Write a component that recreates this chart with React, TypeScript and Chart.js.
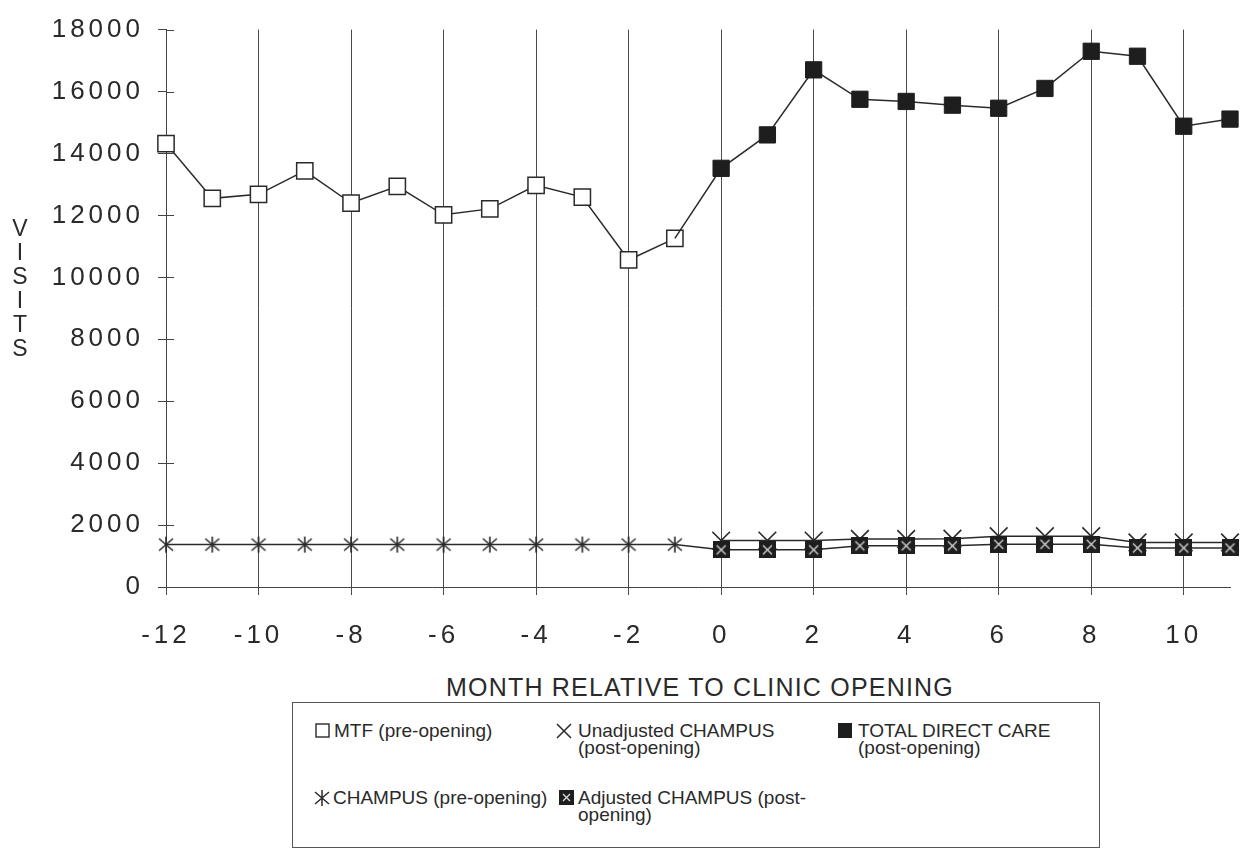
import React, { useEffect, useRef } from 'react';
import { Chart, registerables } from 'chart.js';

Chart.register(...registerables);

// ---- data ----
const preMonths = [-12, -11, -10, -9, -8, -7, -6, -5, -4, -3, -2, -1];
const postMonths = [0, 1, 2, 3, 4, 5, 6, 7, 8, 9, 10, 11];
const mtfPre = [14320, 12550, 12680, 13440, 12400, 12940, 12020, 12210, 12970, 12590, 10560, 11260];
const champusPre = [1370, 1370, 1370, 1370, 1370, 1370, 1370, 1370, 1370, 1370, 1370, 1370];
const unadjustedPost = [1500, 1500, 1500, 1550, 1550, 1560, 1640, 1640, 1640, 1440, 1440, 1440];
const adjustedPost = [1200, 1200, 1200, 1330, 1330, 1330, 1380, 1380, 1380, 1260, 1260, 1260];
const totalDirectPost = [13520, 14600, 16700, 15750, 15680, 15560, 15460, 16100, 17300, 17140, 14880, 15110];
const yMin = 0;
const yMax = 18000;
const yStep = 2000;
const xMin = -12;
const xMax = 11;
const xStep = 2;

const xTitle = 'MONTH RELATIVE TO CLINIC OPENING';
const yTitleLetters = ['V', 'I', 'S', 'I', 'T', 'S'];

const INK = '#2a2a2a';
const FONT = "'Liberation Sans', Arial, Helvetica, sans-serif";

function makeAsterisk(): HTMLCanvasElement {
  const c = document.createElement('canvas');
  c.width = 18; c.height = 18;
  const g = c.getContext('2d')!;
  g.strokeStyle = INK; g.lineWidth = 1.6;
  g.beginPath();
  g.moveTo(2, 3); g.lineTo(16, 15);
  g.moveTo(2, 15); g.lineTo(16, 3);
  g.moveTo(9, 1); g.lineTo(9, 17);
  g.stroke();
  return c;
}

function makeAdjusted(): HTMLCanvasElement {
  const c = document.createElement('canvas');
  c.width = 17; c.height = 17;
  const g = c.getContext('2d')!;
  g.fillStyle = '#1e1e1e';
  g.fillRect(0, 0, 17, 17);
  g.strokeStyle = '#d8d8d8'; g.lineWidth = 1.3;
  g.beginPath();
  g.moveTo(4, 4); g.lineTo(13, 13);
  g.moveTo(4, 13); g.lineTo(13, 4);
  g.stroke();
  return c;
}

const spacingPlugin = {
  id: 'letterSpacing',
  beforeDraw(chart: any) {
    chart.ctx.letterSpacing = '4px';
  },
  afterDraw(chart: any) {
    chart.ctx.letterSpacing = '0px';
    // inward half of the crossing tick marks on the y axis
    const y = chart.scales.y;
    const left = chart.chartArea.left;
    const ctx = chart.ctx;
    ctx.save();
    ctx.strokeStyle = '#444';
    ctx.lineWidth = 1;
    ctx.beginPath();
    y.ticks.forEach((t: any) => {
      const py = Math.round(y.getPixelForValue(t.value)) + 0.5;
      ctx.moveTo(left, py);
      ctx.lineTo(left + 8, py);
    });
    ctx.stroke();
    ctx.restore();
  },
};

function ChartCanvas() {
  const ref = useRef<HTMLCanvasElement | null>(null);
  useEffect(() => {
    if (!ref.current) return;
    const asterisk = makeAsterisk();
    const adjusted = makeAdjusted();
    const pts = (xs: number[], ys: number[]) => xs.map((x, i) => ({ x, y: ys[i] }));

    const chart = new Chart(ref.current, {
      type: 'line',
      data: {
        datasets: [
          {
            label: 'MTF (pre-opening)',
            data: pts(preMonths, mtfPre),
            borderColor: INK,
            borderWidth: 1.5,
            pointStyle: 'rect',
            pointRadius: 11.5,
            pointBackgroundColor: '#ffffff',
            pointBorderColor: INK,
            pointBorderWidth: 1.5,
            clip: false,
            order: 2,
          },
          {
            label: 'TOTAL DIRECT CARE (post-opening)',
            data: [{ x: preMonths[preMonths.length - 1], y: mtfPre[mtfPre.length - 1] }, ...pts(postMonths, totalDirectPost)],
            borderColor: INK,
            borderWidth: 1.5,
            pointStyle: 'rect',
            pointRadius: (c: any) => (c.dataIndex === 0 ? 0 : 11.5),
            pointBackgroundColor: '#1e1e1e',
            pointBorderColor: '#1e1e1e',
            pointBorderWidth: 1,
            clip: false,
            order: 1,
          },
          {
            label: 'CHAMPUS (pre-opening)',
            data: pts(preMonths, champusPre),
            borderColor: INK,
            borderWidth: 1.5,
            pointStyle: asterisk,
            pointRadius: 8,
            clip: false,
            order: 5,
          },
          {
            label: 'Unadjusted CHAMPUS (post-opening)',
            data: pts(postMonths, unadjustedPost),
            borderColor: INK,
            borderWidth: 1.5,
            pointStyle: 'crossRot',
            pointRadius: 12.5,
            pointBorderColor: INK,
            pointBorderWidth: 1.6,
            clip: false,
            order: 4,
          },
          {
            label: 'Adjusted CHAMPUS (post-opening)',
            data: [{ x: preMonths[preMonths.length - 1], y: champusPre[champusPre.length - 1] }, ...pts(postMonths, adjustedPost)],
            borderColor: INK,
            borderWidth: 1.5,
            pointStyle: adjusted,
            pointRadius: (c: any) => (c.dataIndex === 0 ? 0 : 8),
            clip: false,
            order: 3,
          },
        ],
      },
      options: {
        responsive: false,
        animation: false,
        events: [],
        layout: { padding: { left: 0, top: 20, right: 19, bottom: 0 } },
        plugins: {
          legend: { display: false },
          tooltip: { enabled: false },
        },
        elements: { line: { tension: 0 } },
        scales: {
          x: {
            type: 'linear',
            min: xMin,
            max: xMax,
            afterFit: (s: any) => { s.height = 80; },
            ticks: {
              stepSize: xStep,
              includeBounds: false,
              color: INK,
              font: { family: FONT, size: 26 },
              padding: 25,
              maxRotation: 0,
              autoSkip: false,
              callback: (v: any) => String(v),
            },
            grid: {
              color: '#4a4a4a',
              lineWidth: 1,
              tickLength: 8,
              drawTicks: true,
            },
            border: { display: true, color: '#444', width: 1 },
          },
          y: {
            type: 'linear',
            min: yMin,
            max: yMax,
            afterFit: (s: any) => { s.width = 166; },
            ticks: {
              stepSize: yStep,
              color: INK,
              font: { family: FONT, size: 26 },
              padding: 14,
              callback: (v: any) => String(v),
            },
            grid: {
              drawOnChartArea: false,
              color: '#444',
              tickLength: 8,
            },
            border: { display: true, color: '#444', width: 1 },
          },
        },
      },
      plugins: [spacingPlugin],
    } as any);
    return () => chart.destroy();
  }, []);
  return <canvas ref={ref} width={1249} height={667} style={{ position: 'absolute', left: 0, top: 0, width: 1249, height: 667 }} />;
}

const legendText: React.CSSProperties = {
  position: 'absolute',
  fontFamily: FONT,
  fontSize: 19,
  lineHeight: '17px',
  color: INK,
  whiteSpace: 'nowrap',
};

function Marker({ kind }: { kind: string }) {
  if (kind === 'open') {
    return (
      <svg width={15} height={15}><rect x={1} y={1} width={13} height={13} fill="#fff" stroke={INK} strokeWidth={1.4} /></svg>
    );
  }
  if (kind === 'filled') {
    return (
      <svg width={14} height={15}><rect x={0} y={0} width={14} height={15} fill="#1e1e1e" /></svg>
    );
  }
  if (kind === 'x') {
    return (
      <svg width={18} height={18}><path d="M2 2 L16 16 M2 16 L16 2" stroke={INK} strokeWidth={1.5} fill="none" /></svg>
    );
  }
  if (kind === 'asterisk') {
    return (
      <svg width={18} height={18}><path d="M2 3 L16 15 M2 15 L16 3 M9 1 L9 17" stroke={INK} strokeWidth={1.5} fill="none" /></svg>
    );
  }
  return (
    <svg width={15} height={15}>
      <rect x={0} y={0} width={15} height={15} fill="#1e1e1e" />
      <path d="M4 4 L11 11 M4 11 L11 4" stroke="#ddd" strokeWidth={1.3} fill="none" />
    </svg>
  );
}

const legendItems = [
  { kind: 'open', lines: ['MTF (pre-opening)'], mx: 315, my: 723, tx: 334, ty: 722 },
  { kind: 'x', lines: ['Unadjusted CHAMPUS', '(post-opening)'], mx: 555, my: 722, tx: 578, ty: 722 },
  { kind: 'filled', lines: ['TOTAL DIRECT CARE', '(post-opening)'], mx: 838, my: 723, tx: 858, ty: 722 },
  { kind: 'asterisk', lines: ['CHAMPUS (pre-opening)'], mx: 313, my: 789, tx: 333, ty: 789 },
  { kind: 'adj', lines: ['Adjusted CHAMPUS (post-', 'opening)'], mx: 559, my: 790, tx: 578, ty: 789 },
];

export default function App() {
  return (
    <div style={{ position: 'absolute', left: 0, top: 0, width: 1249, height: 848, background: '#fff', overflow: 'hidden' }}>
      <ChartCanvas />
      <div
        style={{
          position: 'absolute', left: 10, top: 216, width: 20,
          fontFamily: FONT, fontSize: 23, lineHeight: '24px', color: INK, textAlign: 'center',
        }}
      >
        {yTitleLetters.map((l, i) => (<div key={i}>{l}</div>))}
      </div>
      <div
        style={{
          position: 'absolute', left: 0, top: 672, width: 1400, textAlign: 'center',
          fontFamily: FONT, fontSize: 25, lineHeight: '30px', letterSpacing: '1.2px', color: INK, whiteSpace: 'nowrap',
        }}
      >
        {xTitle}
      </div>
      <div style={{ position: 'absolute', left: 292, top: 702, width: 806, height: 144, border: '1px solid #555' }} />
      {legendItems.map((it, i) => (
        <React.Fragment key={i}>
          <div style={{ position: 'absolute', left: it.mx, top: it.my, lineHeight: 0 }}>
            <Marker kind={it.kind} />
          </div>
          <div style={{ ...legendText, left: it.tx, top: it.ty }}>
            {it.lines.map((ln, j) => (<div key={j}>{ln}</div>))}
          </div>
        </React.Fragment>
      ))}
    </div>
  );
}
